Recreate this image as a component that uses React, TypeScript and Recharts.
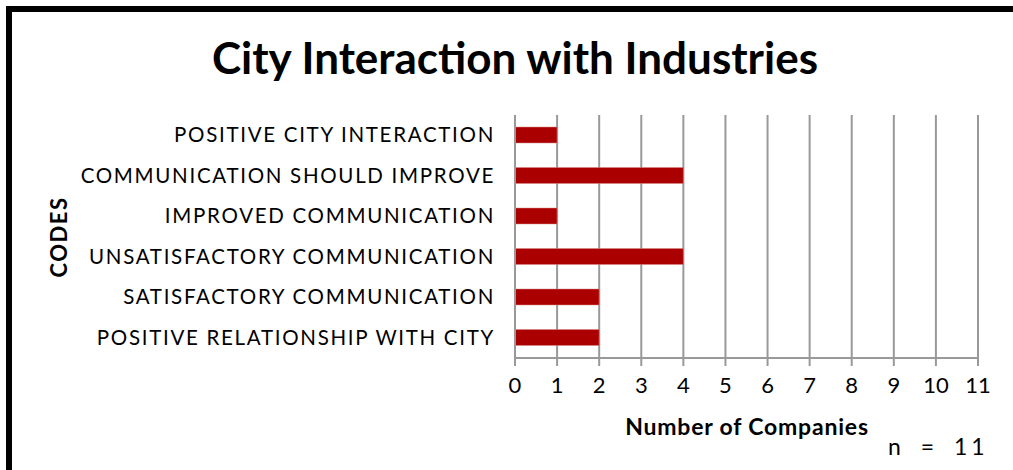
import React from 'react';
import { BarChart, Bar, XAxis, YAxis, CartesianGrid } from 'recharts';

const categories = [
  'POSITIVE CITY INTERACTION',
  'COMMUNICATION SHOULD IMPROVE',
  'IMPROVED COMMUNICATION',
  'UNSATISFACTORY COMMUNICATION',
  'SATISFACTORY COMMUNICATION',
  'POSITIVE RELATIONSHIP WITH CITY',
];
const companies = [1, 4, 1, 4, 2, 2];
const xTicks = [0, 1, 2, 3, 4, 5, 6, 7, 8, 9, 10, 11];
const boundaryTicks = [0, 1, 2, 3, 4, 5, 6];

const data = categories.map((c, i) => ({ code: c, value: companies[i] }));

const FONT = 'Lato, "Open Sans", sans-serif';

const CatTick = (props: any) => {
  const { x, y, payload } = props;
  return (
    <text x={x} y={y} dy={7} textAnchor="end" fontFamily={FONT} fontSize={20.5} fill="#000" letterSpacing={1.7}>
      {payload.value}
    </text>
  );
};

const NumTick = (props: any) => {
  const { x, y, payload } = props;
  return (
    <text x={x} y={y} dy={21} textAnchor="middle" fontFamily={FONT} fontSize={22} fill="#000">
      {payload.value}
    </text>
  );
};

export default function App() {
  return (
    <div style={{ position: 'absolute', left: 0, top: 0, width: 1013, height: 470, overflow: 'hidden', background: '#fff' }}>
      <div style={{ position: 'absolute', left: 6, top: 6, width: 1100, height: 600, border: '6px solid #000', boxSizing: 'border-box' }} />
      <div style={{ position: 'absolute', left: 0, top: 27, width: 1030, textAlign: 'center', fontFamily: FONT, fontWeight: 700, fontSize: 44, color: '#000', lineHeight: '60px' }}>
        City Interaction with Industries
      </div>
      <div style={{ position: 'absolute', left: 0, top: 0 }}>
        <BarChart
          width={1013}
          height={470}
          layout="vertical"
          data={data}
          margin={{ top: 115, right: 35, bottom: 0, left: 0 }}
          barSize={16}
        >
          <CartesianGrid horizontal={false} vertical={true} stroke="#999" strokeWidth={2} />
          <XAxis
            type="number"
            domain={[0, 11]}
            ticks={xTicks}
            interval={0}
            height={112}
            axisLine={{ stroke: '#999', strokeWidth: 2 }}
            tickLine={{ stroke: '#999', strokeWidth: 2 }}
            tickSize={8}
            tick={<NumTick />}
            tickMargin={6}
          />
          <YAxis
            yAxisId="bounds"
            type="number"
            domain={[0, 6]}
            ticks={boundaryTicks}
            width={0}
            axisLine={false}
            tick={false}
            tickLine={{ stroke: '#999', strokeWidth: 2 }}
            tickSize={8}
          />
          <YAxis
            yAxisId="cat"
            type="category"
            dataKey="code"
            width={515}
            axisLine={{ stroke: '#999', strokeWidth: 2 }}
            tickLine={false}
            tick={<CatTick />}
            tickMargin={14}
            interval={0}
          />
          <Bar yAxisId="cat" dataKey="value" fill="#AA0000" stroke="#d88" strokeWidth={0.5} isAnimationActive={false} />
        </BarChart>
      </div>
      <div style={{ position: 'absolute', left: 597, top: 410, width: 300, textAlign: 'center', fontFamily: FONT, fontWeight: 700, fontSize: 23, letterSpacing: 0.8, color: '#000', lineHeight: '32px' }}>
        Number of Companies
      </div>
      <div style={{ position: 'absolute', left: 888, top: 431, fontFamily: FONT, fontSize: 23, letterSpacing: 4, wordSpacing: 6, color: '#000', whiteSpace: 'pre', lineHeight: '30px' }}>
        n = 11
      </div>
      <div style={{ position: 'absolute', left: 58, top: 237, transform: 'translate(-50%, -50%) rotate(-90deg)', fontFamily: FONT, fontWeight: 700, fontSize: 22, letterSpacing: 1.5, color: '#000', whiteSpace: 'nowrap' }}>
        CODES
      </div>
    </div>
  );
}
